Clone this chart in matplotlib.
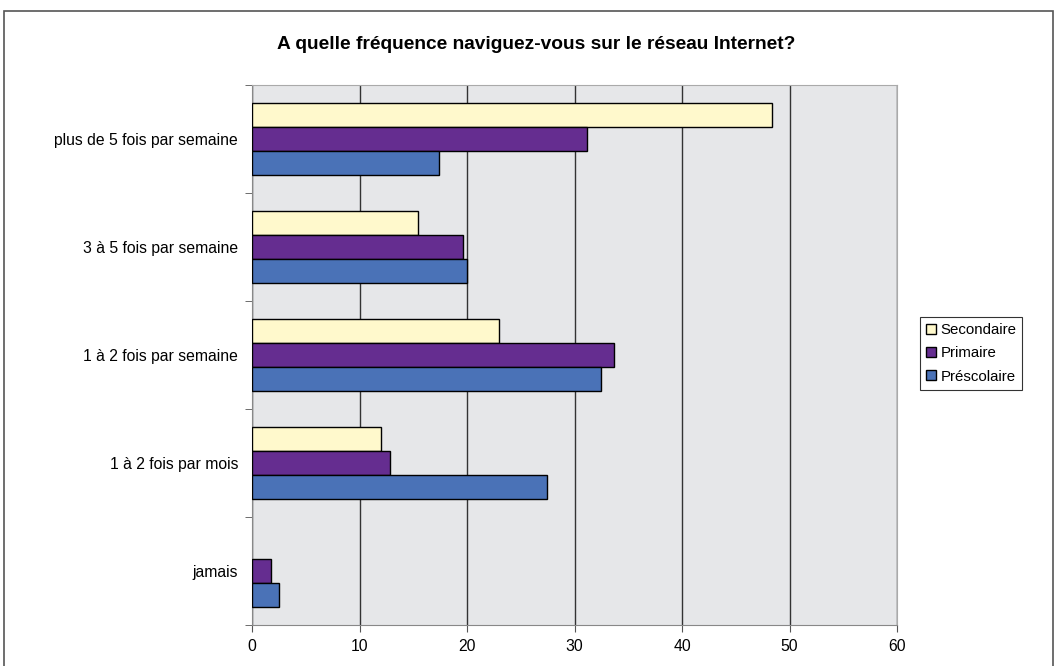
import numpy as np
import matplotlib.pyplot as plt
from matplotlib.patches import Rectangle

plt.rcParams['font.family'] = ['Liberation Sans', 'DejaVu Sans']

categories = ['plus de 5 fois par semaine', '3 à 5 fois par semaine',
              '1 à 2 fois par semaine', '1 à 2 fois par mois', 'jamais']
secondaire = [48.4, 15.4, 23.0, 12.0, 0]
primaire = [31.2, 19.6, 33.7, 12.8, 1.8]
prescolaire = [17.4, 20.0, 32.5, 27.4, 2.5]
xticks = [0, 10, 20, 30, 40, 50, 60]

series = [('Secondaire', secondaire, '#FFF9CC'),
          ('Primaire', primaire, '#652D90'),
          ('Préscolaire', prescolaire, '#4A72B7')]

fig = plt.figure(figsize=(10.59, 6.66), dpi=100)
ax = fig.add_axes([252 / 1059, 41 / 666, 645 / 1059, 540 / 666])

y = np.arange(len(categories))
h = 0.222
for i, (name, vals, col) in enumerate(series):
    bars = ax.barh(y + (i - 1) * h, vals, height=h, color=col, edgecolor='black',
                   linewidth=1, label=name, zorder=3)
    # no outline for empty bars
    for b, v in zip(bars, vals):
        if v == 0:
            b.set_visible(False)

ax.set_xlim(0, 60)
ax.set_ylim(len(categories) - 0.5, -0.5)
ax.set_facecolor('#E6E7E9')
ax.set_xticks(xticks)
ax.set_xticklabels([str(t) for t in xticks], fontsize=11.3)
ax.set_yticks(y)
ax.set_yticklabels(categories, fontsize=11.3)
ax.tick_params(axis='y', length=0, pad=10)
ax.set_yticks(np.arange(len(categories) + 1) - 0.5, minor=True)
ax.tick_params(axis='y', which='minor', length=5, color='#555555')
ax.tick_params(axis='x', length=5, color='#555555', pad=5)
ax.xaxis.grid(True, color='#333333', linewidth=1, zorder=1)
for s in ['top', 'right']:
    ax.spines[s].set_color('#AAAAAA')
for s in ['left', 'bottom']:
    ax.spines[s].set_color('#888888')

ax.set_title('A quelle fréquence naviguez-vous sur le réseau Internet?',
             fontsize=13.8, fontweight='bold', pad=26, x=0.44)

leg = ax.legend(loc='center left', bbox_to_anchor=(1.036, 0.503), fontsize=10.8,
                frameon=True, fancybox=False, edgecolor='black',
                handlelength=0.65, handleheight=0.65, handletextpad=0.3,
                borderpad=0.4, labelspacing=0.62, borderaxespad=0)
leg.get_frame().set_linewidth(0.8)

fig.patches.append(Rectangle((4 / 1059, -0.1), 1049 / 1059, 1.1 - 11 / 666,
                             transform=fig.transFigure, fill=False,
                             edgecolor='#555555', linewidth=1.2))

fig.savefig('out.png', dpi=100)
